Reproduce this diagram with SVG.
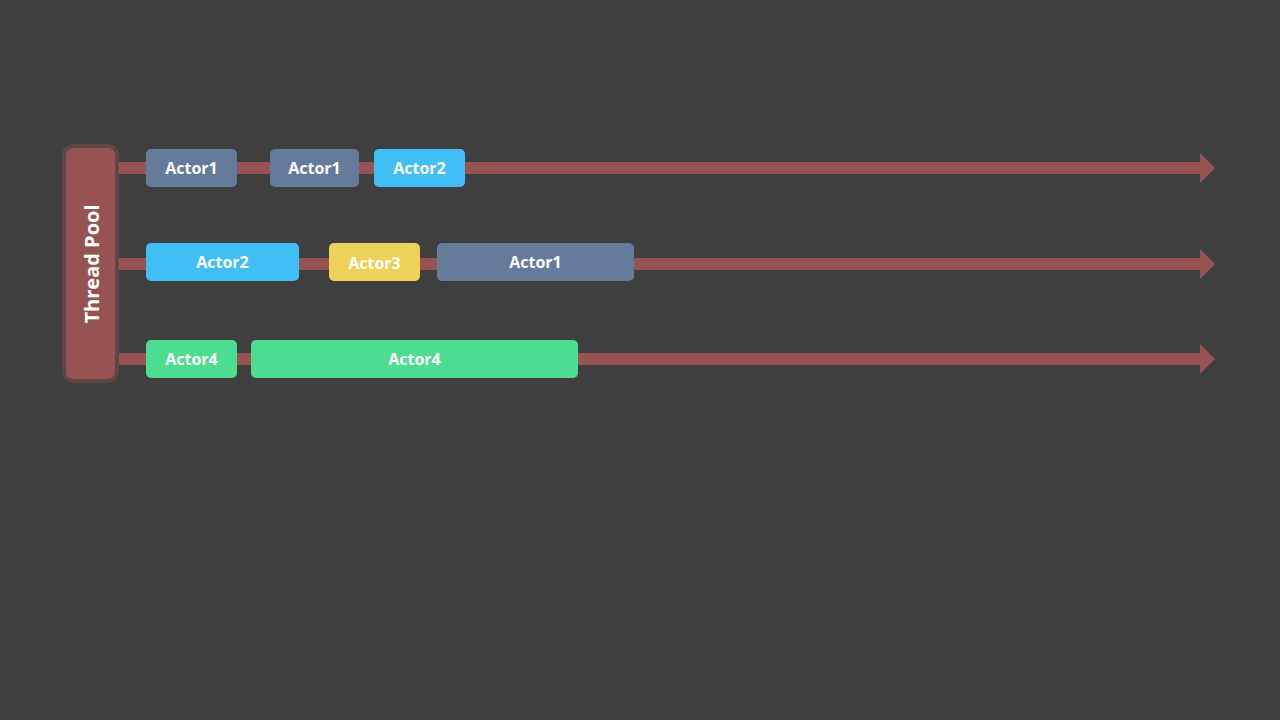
<svg xmlns="http://www.w3.org/2000/svg" width="1280" height="720" viewBox="0 0 1280 720">
<defs>
<style>
.bar{fill:#975252}
.box{stroke:none}
.a1{fill:#647b9c}
.a2{fill:#40bff6}
.a3{fill:#eed157}
.a4{fill:#4cdd91}
.t{font-family:"Open Sans","Liberation Sans",sans-serif;font-weight:bold;font-size:16px;fill:#ffffff;text-anchor:middle;dominant-baseline:central}
</style>
</defs>
<rect width="1280" height="720" fill="#3f3f3f"/>
<g id="connectors">
<path class="bar" d="M115 162 H1200 V153 L1215 168 L1200 183 V174 H115 Z"/>
<path class="bar" d="M115 258 H1200 V249 L1215 264 L1200 279 V270 H115 Z"/>
<path class="bar" d="M115 353 H1200 V344 L1215 359 L1200 374 V365 H115 Z"/>
</g>
<g id="threadpool">
<rect x="64" y="146" width="53" height="235" rx="9" fill="#975252" stroke="#5f4646" stroke-width="4"/>
<text class="t" x="0" y="0" style="font-size:20px" transform="translate(91 264) rotate(-90)">Thread Pool</text>
</g>
<g id="r1a"><rect class="a1" x="146" y="149" width="91" height="38" rx="5"/><text class="t" x="191.5" y="168">Actor1</text></g>
<g id="r1b"><rect class="a1" x="270" y="149" width="89" height="38" rx="5"/><text class="t" x="314.5" y="168">Actor1</text></g>
<g id="r1c"><rect class="a2" x="374" y="149" width="91" height="38" rx="5"/><text class="t" x="419.5" y="168">Actor2</text></g>
<g id="r2a"><rect class="a2" x="146" y="243" width="153" height="38" rx="5"/><text class="t" x="222.5" y="262">Actor2</text></g>
<g id="r2b"><rect class="a3" x="329" y="243" width="91" height="38" rx="5"/><text class="t" x="374.5" y="263">Actor3</text></g>
<g id="r2c"><rect class="a1" x="437" y="243" width="197" height="38" rx="5"/><text class="t" x="535.5" y="262">Actor1</text></g>
<g id="r3a"><rect class="a4" x="146" y="340" width="91" height="38" rx="5"/><text class="t" x="191.5" y="359">Actor4</text></g>
<g id="r3b"><rect class="a4" x="251" y="340" width="327" height="38" rx="5"/><text class="t" x="414.5" y="359">Actor4</text></g>
</svg>
